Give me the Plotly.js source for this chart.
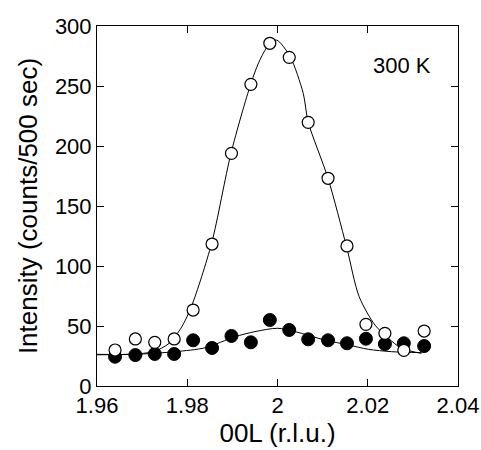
<!DOCTYPE html>
<html>
<head>
<meta charset="utf-8">
<script src="https://cdn.plot.ly/plotly-3.0.1.min.js"></script>
<style>html,body{margin:0;padding:0;background:#fff;}#chart{width:481px;height:450px;}</style>
</head>
<body>
<div id="chart"></div>
<script>
// Open circles (data)
const openL = [1.9640, 1.9685, 1.9728, 1.9771, 1.9813, 1.9855, 1.9898, 1.9941, 1.9983, 2.0026, 2.0068, 2.0112, 2.0154, 2.0196, 2.0238, 2.0280, 2.0325];
const openI = [30.0, 39.2, 36.4, 39.2, 63.3, 118.3, 193.9, 251.4, 285.6, 273.9, 219.7, 173.1, 116.7, 51.4, 43.9, 29.7, 45.8];
// Filled circles (data)
const fillL = [1.9640, 1.9685, 1.9728, 1.9771, 1.9813, 1.9855, 1.9898, 1.9941, 1.9983, 2.0026, 2.0068, 2.0112, 2.0154, 2.0196, 2.0238, 2.0280, 2.0325];
const fillI = [24.4, 25.8, 26.7, 26.7, 38.1, 31.7, 41.7, 36.4, 55.0, 46.7, 38.9, 38.1, 35.6, 39.4, 35.0, 35.6, 33.3];
// Fit curve through open circles
const openFitL = [1.9600, 1.9680, 1.9725, 1.9760, 1.9788, 1.9810, 1.9854, 1.9897, 1.9941, 1.9961, 1.9983, 1.9998, 2.0028, 2.0057, 2.0068, 2.0112, 2.0153, 2.0181, 2.0216, 2.0246, 2.0275, 2.0319];
const openFitI = [26.0, 26.6, 28.6, 35.6, 49.4, 67.0, 119.0, 194.0, 252.0, 271.7, 285.6, 288.3, 274.4, 243.9, 220.0, 173.0, 116.0, 74.4, 50.8, 39.7, 31.4, 27.2];
// Fit curve through filled circles
const fillFitL = [1.9600, 1.9684, 1.9773, 1.9840, 1.9906, 1.9950, 2.0000, 2.0039, 2.0105, 2.0157, 2.0201, 2.0253, 2.0319];
const fillFitI = [26.4, 26.4, 28.6, 31.9, 41.1, 45.3, 48.1, 45.3, 38.3, 34.2, 30.6, 28.6, 27.8];
// Tick labels
const xTicks = [1.96, 1.98, 2.00, 2.02, 2.04];
const xTickText = ["1.96", "1.98", "2", "2.02", "2.04"];
const yTicks = [0, 50, 100, 150, 200, 250, 300];
const yTickText = ["0", "50", "100", "150", "200", "250", "300"];

const traces = [
  {x: openFitL, y: openFitI, mode: 'lines', line: {color: '#000', width: 1, shape: 'spline', smoothing: 0.8}, hoverinfo: 'skip'},
  {x: fillFitL, y: fillFitI, mode: 'lines', line: {color: '#000', width: 1, shape: 'spline', smoothing: 0.8}, hoverinfo: 'skip'},
  {x: fillL, y: fillI, mode: 'markers', marker: {symbol: 'circle', size: 13, color: '#000', line: {color: '#000', width: 1}}},
  {x: openL, y: openI, mode: 'markers', marker: {symbol: 'circle', size: 12, color: '#fff', line: {color: '#000', width: 1.2}}}
];

const font = 'Arial, "Liberation Sans", sans-serif';
const layout = {
  width: 481, height: 450,
  margin: {l: 97, r: 23, t: 26, b: 64},
  paper_bgcolor: '#fff', plot_bgcolor: '#fff',
  showlegend: false,
  font: {family: font, color: '#000', size: 22},
  xaxis: {
    range: [1.96, 2.04], tickmode: 'array', tickvals: xTicks, ticktext: xTickText,
    ticks: 'inside', ticklen: 7, tickcolor: '#000', tickwidth: 1,
    showline: true, linecolor: '#000', linewidth: 1, mirror: 'allticks',
    showgrid: false, zeroline: false,
    tickfont: {family: font, size: 22, color: '#000'},
    title: {text: '00L (r.l.u.)', font: {family: font, size: 26, color: '#000'}, standoff: 4}
  },
  yaxis: {
    range: [0, 300], tickmode: 'array', tickvals: yTicks, ticktext: yTickText,
    ticks: 'inside', ticklen: 7, tickcolor: '#000', tickwidth: 1,
    showline: true, linecolor: '#000', linewidth: 1, mirror: 'allticks',
    showgrid: false, zeroline: false,
    tickfont: {family: font, size: 22, color: '#000'},
    title: {text: 'Intensity (counts/500 sec)', font: {family: font, size: 26, color: '#000'}, standoff: 9}
  },
  annotations: [{
    x: 2.0275, y: 267.5, xref: 'x', yref: 'y', text: '300 K', showarrow: false,
    font: {family: font, size: 22, color: '#000'}
  }]
};

Plotly.newPlot('chart', traces, layout, {staticPlot: true, displayModeBar: false});
</script>
</body>
</html>
